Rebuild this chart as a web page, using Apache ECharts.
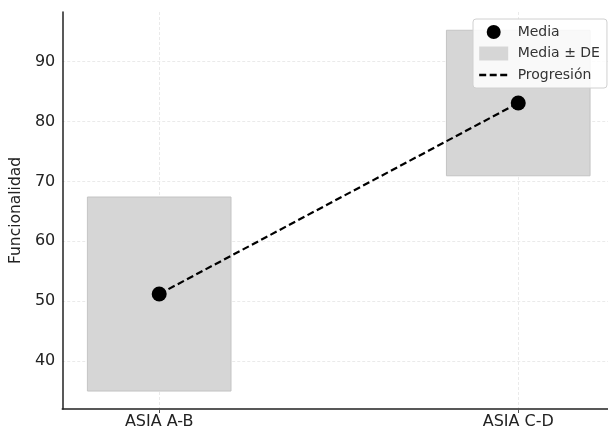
<!DOCTYPE html>
<html>
<head>
<meta charset="utf-8">
<script src="https://cdn.jsdelivr.net/npm/echarts@6/dist/echarts.min.js"></script>
<style>
    html, body { margin: 0; padding: 0; background: #fff; }
    #chart { width: 608px; height: 430px; }
</style>
</head>
<body>
<div id="chart"></div>
<script>
    // datos
    var categories = ['ASIA A-B', 'ASIA C-D'];
    var means = [51.2, 83.1];
    var sds = [16.2, 12.15];
    var yTicks = [40, 50, 60, 70, 80, 90];
    var xPos = [0, 1];

    var boxData = xPos.map(function (x, i) {
        return [x, means[i] - sds[i], means[i] + sds[i]];
    });
    var meanData = xPos.map(function (x, i) {
        return [x, means[i]];
    });

    var myChart = echarts.init(document.getElementById('chart'));
    var font = 'DejaVu Sans';

    var option = {
        animation: false,
        grid: { left: 59, top: 12, right: 0, bottom: 20 },
        legend: {
            orient: 'vertical',
            left: 473,
            top: 19,
            padding: [6, 7, 6, 5],
            itemGap: 7.5,
            itemWidth: 29,
            itemHeight: 14,
            backgroundColor: 'rgba(255,255,255,0.85)',
            borderColor: '#d0d0d0',
            borderWidth: 1,
            borderRadius: 3,
            formatter: function (name) { return ' ' + name; },
            textStyle: { fontFamily: font, fontSize: 14, color: '#333' },
            data: [
                { name: 'Media', icon: 'circle', itemStyle: { color: '#000', opacity: 1 } },
                { name: 'Media ± DE', icon: 'rect' },
                { name: 'Progresión', itemStyle: { color: 'rgba(0,0,0,0)', borderWidth: 0 }, lineStyle: { width: 2.4 } }
            ]
        },
        xAxis: {
            type: 'value',
            min: -0.27,
            max: 1.25,
            axisLine: { show: true, onZero: false, lineStyle: { color: '#222', width: 1.5 } },
            axisTick: { show: true, length: 4, lineStyle: { color: '#555' }, customValues: xPos },
            axisLabel: {
                customValues: xPos,
                fontFamily: font,
                fontSize: 16,
                color: '#222',
                margin: 5,
                formatter: function (v) { return categories[Math.round(v)]; }
            },
            splitLine: { show: true, lineStyle: { color: '#e4e4e4', type: [3, 2], width: 0.8 } }
        },
        yAxis: {
            type: 'value',
            min: 32,
            max: 98.3,
            name: 'Funcionalidad',
            nameLocation: 'middle',
            nameGap: 38,
            nameTextStyle: { fontFamily: font, fontSize: 15.5, color: '#222' },
            axisLine: { show: true, onZero: false, lineStyle: { color: '#222', width: 1.5 } },
            axisTick: { show: false, customValues: yTicks },
            axisLabel: {
                customValues: yTicks,
                fontFamily: font,
                fontSize: 16,
                color: '#222',
                margin: 7
            },
            splitLine: { show: true, lineStyle: { color: '#e4e4e4', type: [3, 2], width: 0.8 } }
        },
        series: [
            {
                name: 'Media ± DE',
                type: 'custom',
                z: 1,
                itemStyle: { color: '#d6d6d6' },
                renderItem: function (params, api) {
                    var x = api.value(0);
                    var p1 = api.coord([x - 0.2, api.value(2)]);
                    var p2 = api.coord([x + 0.2, api.value(1)]);
                    return {
                        type: 'rect',
                        shape: { x: p1[0], y: p1[1], width: p2[0] - p1[0], height: p2[1] - p1[1] },
                        style: { fill: '#d6d6d6', stroke: '#c4c4c4', lineWidth: 1 }
                    };
                },
                data: boxData
            },
            {
                name: 'Progresión',
                type: 'line',
                z: 2,
                symbol: 'none',
                lineStyle: { color: '#000', width: 2.2, type: [7, 3.5] },
                itemStyle: { color: '#000' },
                data: meanData
            },
            {
                name: 'Media',
                type: 'scatter',
                z: 3,
                symbolSize: 15,
                itemStyle: { color: '#000', opacity: 1 },
                data: meanData
            }
        ]
    };
    myChart.setOption(option);
</script>
</body>
</html>
